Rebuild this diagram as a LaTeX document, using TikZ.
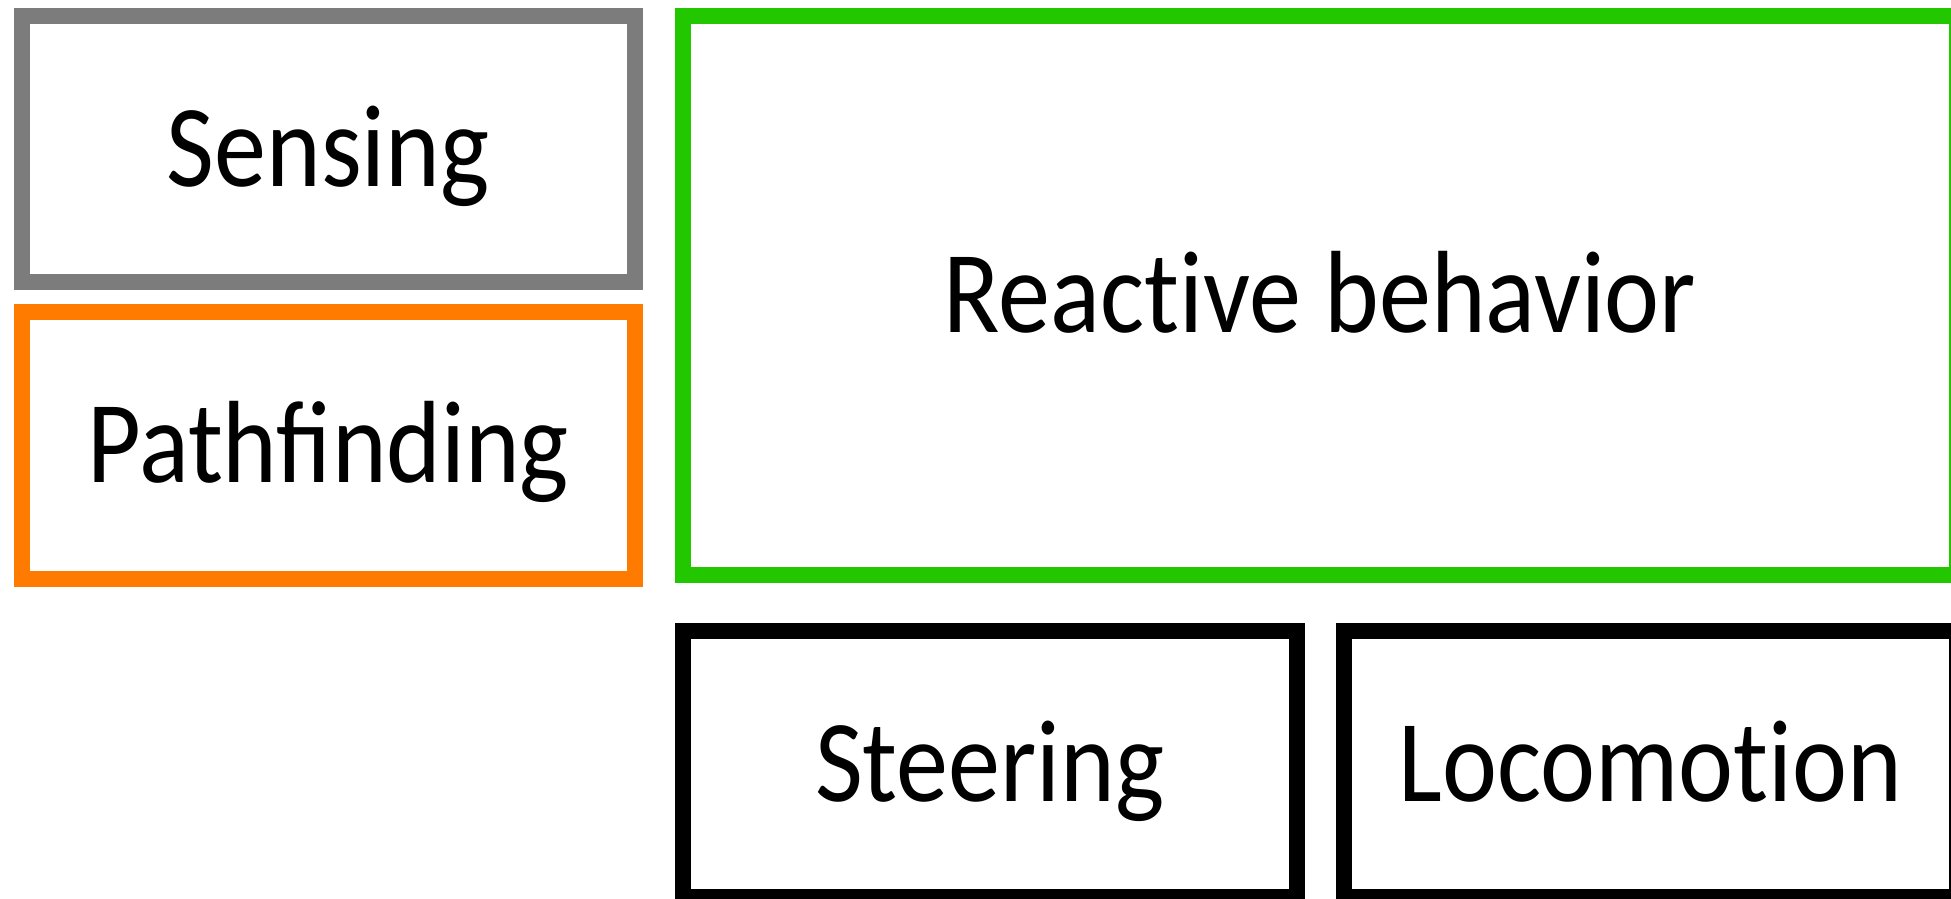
\documentclass[tikz,border=0pt]{standalone}
\usepackage{fontspec}
\setmainfont{Carlito}[FakeStretch=0.89]
\definecolor{sensegray}{RGB}{124,124,124}
\definecolor{pathorange}{RGB}{255,123,0}
\definecolor{reactgreen}{RGB}{34,199,0}
% keep "t" and "i" as separate glyphs
\newcommand{\tsep}{t\kern0pt i}
\begin{document}
\begin{tikzpicture}[x=1pt,y=-1pt,
  layer/.style={draw, line width=16pt, inner sep=0pt, fill=white,
    text height=74pt, text depth=0pt, text=black,
    font=\fontsize{117}{120}\selectfont}]
  \useasboundingbox (0,0) rectangle (1951,898);
  \clip (0,0) rectangle (1951,898);
  % left column
  \node[layer, draw=sensegray, minimum width=613.5pt, minimum height=266pt]
    (sensing) at (328.25,149) {Sensing};
  \node[layer, draw=pathorange, minimum width=613.5pt, minimum height=266.5pt]
    (pathfinding) at (328.25,445.25) {Pathfinding};
  % large behaviour block
  \node[layer, draw=reactgreen, minimum width=1274pt, minimum height=559pt]
    (reactive) at (1320,295.5) {Reac\tsep ve behavior};
  % bottom row
  \node[layer, draw=black, minimum width=613.5pt, minimum height=266.5pt]
    (steering) at (989.75,764) {Steering};
  \node[layer, draw=black, minimum width=613pt, minimum height=266.5pt]
    (locomotion) at (1650.5,764) {Locomo\tsep on};
\end{tikzpicture}
\end{document}
